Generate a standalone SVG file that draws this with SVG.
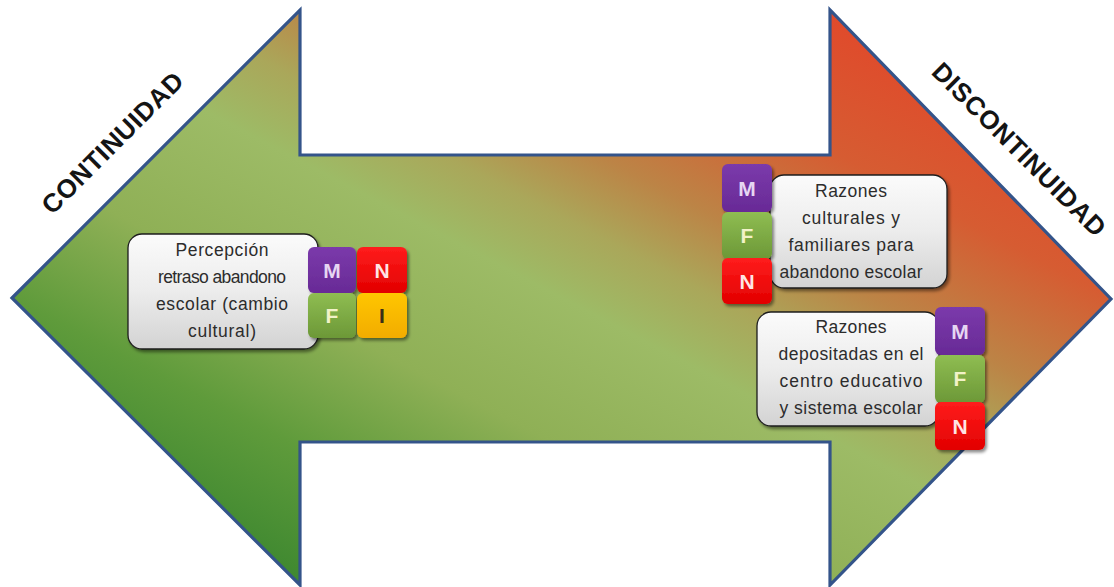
<svg xmlns="http://www.w3.org/2000/svg" width="1114" height="587" viewBox="0 0 1114 587">
  <defs>
    <!-- diagonal fill of the double arrow: green (bottom-left) to red (top-right) -->
    <linearGradient id="arrowFill" x1="0" y1="1" x2="1" y2="0">
      <stop offset="0" stop-color="#2c7428"/>
      <stop offset="0.13" stop-color="#3e8830"/>
      <stop offset="0.25" stop-color="#5f9b3b"/>
      <stop offset="0.37" stop-color="#8fb056"/>
      <stop offset="0.5" stop-color="#9dbb66"/>
      <stop offset="0.57" stop-color="#aaa75a"/>
      <stop offset="0.64" stop-color="#bc8446"/>
      <stop offset="0.75" stop-color="#d65c32"/>
      <stop offset="0.87" stop-color="#e04a2b"/>
      <stop offset="1" stop-color="#e23f28"/>
    </linearGradient>
    <linearGradient id="boxFill" x1="0" y1="0" x2="0" y2="1">
      <stop offset="0" stop-color="#fbfbfb"/>
      <stop offset="0.5" stop-color="#ececec"/>
      <stop offset="1" stop-color="#d3d3d3"/>
    </linearGradient>
    <linearGradient id="gM" x1="0" y1="0" x2="0" y2="1">
      <stop offset="0" stop-color="#7b3aab"/>
      <stop offset="1" stop-color="#682a96"/>
    </linearGradient>
    <linearGradient id="gF" x1="0" y1="0" x2="0" y2="1">
      <stop offset="0" stop-color="#8fbd52"/>
      <stop offset="1" stop-color="#6c9837"/>
    </linearGradient>
    <linearGradient id="gN" x1="0" y1="0" x2="0" y2="1">
      <stop offset="0" stop-color="#ff1c1c"/>
      <stop offset="1" stop-color="#e20000"/>
    </linearGradient>
    <linearGradient id="gI" x1="0" y1="0" x2="0" y2="1">
      <stop offset="0" stop-color="#ffc600"/>
      <stop offset="1" stop-color="#f2ac00"/>
    </linearGradient>
    <filter id="shadow" x="-20%" y="-20%" width="150%" height="150%">
      <feDropShadow dx="2" dy="2.5" stdDeviation="1.6" flood-color="#000" flood-opacity="0.45"/>
    </filter>
  </defs>
  <style>
    .arrow { fill: url(#arrowFill); stroke: #34548a; stroke-width: 3.2; stroke-linejoin: miter; }
    .title { font-family: "Liberation Sans", Arial, sans-serif; font-weight: bold; font-size: 26px; letter-spacing: 0.6px; fill: #141414; text-anchor: middle; }
    .box { fill: url(#boxFill); stroke: #1e1e1e; stroke-width: 1.3; filter: url(#shadow); }
    .txt { font-family: "Liberation Sans", Arial, sans-serif; font-size: 17.5px; fill: #2c2c2c; text-anchor: middle; }
    .sq { filter: url(#shadow); }
    .let { font-family: "Liberation Sans", Arial, sans-serif; font-weight: bold; font-size: 21px; text-anchor: middle; }
    .sqM { fill: url(#gM); }
    .sqF { fill: url(#gF); }
    .sqN { fill: url(#gN); }
    .sqI { fill: url(#gI); }
    .lM { fill: #e6d6f2; }
    .lF { fill: #f2f2c8; }
    .lN { fill: #ffe4e4; }
    .lI { fill: #3a2e18; }
  </style>

  <rect width="1114" height="587" fill="#ffffff"/>

  <!-- double-headed arrow -->
  <g id="arrow">
    <path class="arrow" d="M12,298 L300,10 L300,155 L830,155 L830,10 L1111,299 L830,585 L830,442 L300,442 L300,585 Z"/>
  </g>

  <!-- end labels -->
  <g id="label-continuidad">
    <text class="title" transform="translate(119,149) rotate(-45)">CONTINUIDAD</text>
  </g>
  <g id="label-discontinuidad">
    <text class="title" transform="translate(1013,156) rotate(45)">DISCONTINUIDAD</text>
  </g>

  <!-- left box: perception -->
  <g id="node-percepcion">
    <rect class="box" x="128" y="234" width="190" height="115" rx="14"/>
    <text class="txt" x="222" y="256" textLength="93" lengthAdjust="spacing">Percepción</text>
    <text class="txt" x="222" y="283" textLength="128" lengthAdjust="spacing">retraso abandono</text>
    <text class="txt" x="222" y="310" textLength="132" lengthAdjust="spacing">escolar (cambio</text>
    <text class="txt" x="222" y="337" textLength="68" lengthAdjust="spacing">cultural)</text>
    <g class="sq">
      <rect class="sqM" x="308" y="247" width="48" height="46" rx="6"/>
      <rect class="sqN" x="357" y="247" width="50" height="46" rx="6"/>
      <rect class="sqF" x="308" y="293" width="48" height="45" rx="6"/>
      <rect class="sqI" x="357" y="293" width="50" height="45" rx="6"/>
    </g>
    <text class="let lM" x="332" y="278">M</text>
    <text class="let lN" x="382" y="278">N</text>
    <text class="let lF" x="332" y="323">F</text>
    <text class="let lI" x="382" y="323">I</text>
  </g>

  <!-- right box: cultural and family reasons -->
  <g id="node-razones-culturales">
    <rect class="box" x="770" y="175" width="177" height="113" rx="14"/>
    <text class="txt" x="851" y="197" textLength="72" lengthAdjust="spacing">Razones</text>
    <text class="txt" x="851" y="224" textLength="98" lengthAdjust="spacing">culturales y</text>
    <text class="txt" x="851" y="251" textLength="125" lengthAdjust="spacing">familiares para</text>
    <text class="txt" x="851" y="278" textLength="143" lengthAdjust="spacing">abandono escolar</text>
    <g class="sq">
      <rect class="sqM" x="722" y="164" width="50" height="48" rx="6"/>
      <rect class="sqF" x="722" y="212" width="50" height="47" rx="6"/>
      <rect class="sqN" x="722" y="258" width="50" height="46" rx="6"/>
    </g>
    <text class="let lM" x="747" y="196">M</text>
    <text class="let lF" x="747" y="243">F</text>
    <text class="let lN" x="747" y="289">N</text>
  </g>

  <!-- right box: reasons placed on the school -->
  <g id="node-razones-escuela">
    <rect class="box" x="757" y="312" width="182" height="114" rx="14"/>
    <text class="txt" x="851" y="333" textLength="71" lengthAdjust="spacing">Razones</text>
    <text class="txt" x="851" y="360" textLength="145" lengthAdjust="spacing">depositadas en el</text>
    <text class="txt" x="851" y="387" textLength="143" lengthAdjust="spacing">centro educativo</text>
    <text class="txt" x="851" y="414" textLength="143" lengthAdjust="spacing">y sistema escolar</text>
    <g class="sq">
      <rect class="sqM" x="935" y="307" width="50" height="48" rx="6"/>
      <rect class="sqF" x="935" y="355" width="50" height="48" rx="6"/>
      <rect class="sqN" x="935" y="402" width="50" height="48" rx="6"/>
    </g>
    <text class="let lM" x="960" y="339">M</text>
    <text class="let lF" x="960" y="386">F</text>
    <text class="let lN" x="960" y="434">N</text>
  </g>
</svg>
